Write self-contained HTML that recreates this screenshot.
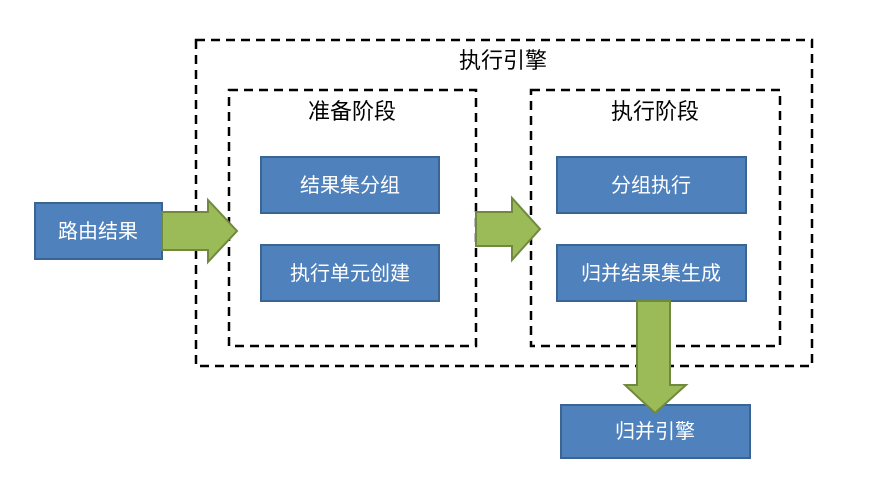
<!DOCTYPE html>
<html><head><meta charset="utf-8"><style>
body{margin:0;background:#fff;}
</style></head><body>
<svg width="870" height="479" xmlns="http://www.w3.org/2000/svg" style="display:block;font-family:'Liberation Sans','Noto Sans CJK SC',sans-serif">
<g fill="none" stroke="#000" stroke-width="2.5" stroke-dasharray="9,6">
<rect x="196" y="40" width="616" height="326"/>
<rect x="229" y="90" width="247" height="256"/>
<rect x="531" y="90" width="249" height="256"/>
</g>
<g font-size="22" fill="#000" text-anchor="middle">
<text x="503" y="68">执行引擎</text>
<text x="352" y="119">准备阶段</text>
<text x="655" y="119">执行阶段</text>
</g>
<g fill="#4f81bd" stroke="#3a6593" stroke-width="2">
<rect x="35" y="203" width="127" height="56"/>
<rect x="261" y="157" width="178" height="56"/>
<rect x="261" y="245" width="178" height="56"/>
<rect x="557" y="157" width="189" height="56"/>
<rect x="557" y="245" width="189" height="56"/>
<rect x="561" y="405" width="189" height="53"/>
</g>
<g fill="#9bbb59" stroke="#71893f" stroke-width="2" stroke-linejoin="miter">
<polygon points="162,212 208,212 208,200 237,231 208,262 208,250 162,250"/>
<polygon points="476,212 512,212 512,198 540,229 512,260 512,246 476,246"/>
<polygon points="637,301 670,301 670,385 686,385 655,413 625,385 637,385"/>
</g>
<g font-size="20" fill="#fff" text-anchor="middle">
<text x="98" y="238">路由结果</text>
<text x="350" y="192">结果集分组</text>
<text x="350" y="280">执行单元创建</text>
<text x="651" y="192">分组执行</text>
<text x="651" y="280">归并结果集生成</text>
<text x="655" y="438">归并引擎</text>
</g>
</svg>
</body></html>
